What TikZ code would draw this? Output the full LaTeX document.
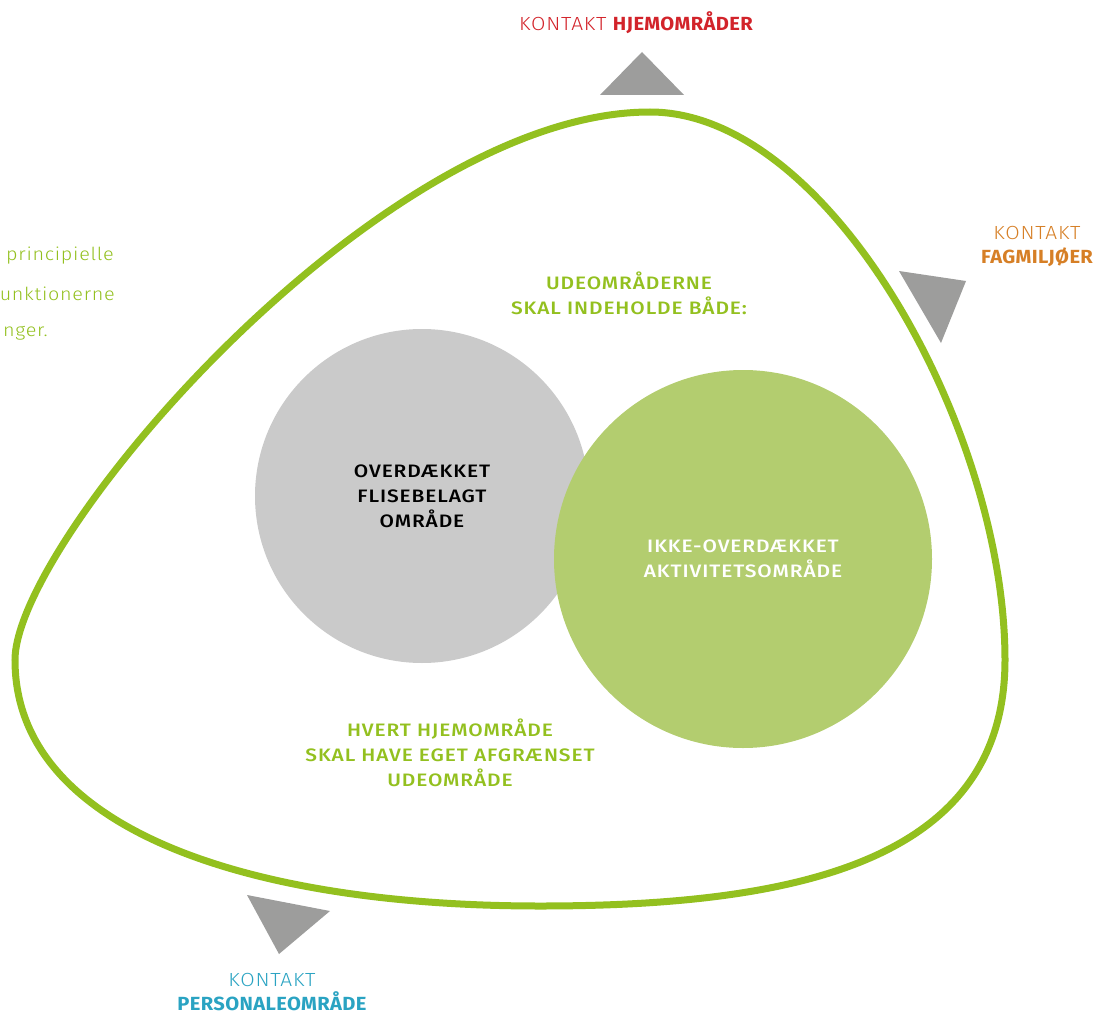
\documentclass[tikz,border=0pt]{standalone}
\usepackage{fontspec}
\setmainfont{Fira Sans}
\newfontfamily\lightfont[FakeStretch=1.1, LetterSpace=4]{Fira Sans Light}
\newfontfamily\medfont[FakeStretch=1.16, LetterSpace=5]{Fira Sans Medium}
\newfontfamily\heavyfont[FakeStretch=1.06, LetterSpace=2]{Fira Sans Bold}
\usepackage{xcolor}
\definecolor{lime}{HTML}{93C01F}
\definecolor{moss}{HTML}{B3CD6F}
\definecolor{stone}{HTML}{CACACA}
\definecolor{marker}{HTML}{9D9D9C}
\definecolor{crimson}{HTML}{D2232A}
\definecolor{amber}{HTML}{D67F26}
\definecolor{cyan}{HTML}{2AA3C2}
\usepackage{tikz}
\usetikzlibrary{positioning}

\begin{document}
\begin{tikzpicture}[
  x=1pt, y=-1pt,
  rim/.style={draw=lime, line width=7pt},
  disc/.style={circle, inner sep=0pt, font=\medfont\fontsize{18}{25}\selectfont, align=center},
  note/.style={text=lime, font=\medfont\fontsize{18}{25}\selectfont, align=center},
  contact/.style={font=\lightfont\fontsize{19}{24}\selectfont, align=center, inner sep=0pt},
  side/.style={text=lime, font=\lightfont\fontsize{18}{38}\selectfont, anchor=east, inner sep=0pt},
  pointer/.style={fill=marker},
]
\useasboundingbox (0,0) rectangle (1111,1014);

% Outline
\coordinate (top) at (650,112);
\coordinate (east) at (1005,660);
\coordinate (south) at (540,906);
\coordinate (west) at (15,660);
\draw[rim] (top) .. controls (830,112) and (1005,430) .. (east)
  .. controls (1005,860) and (800,906) .. (south)
  .. controls (250,906) and (15,830) .. (west)
  .. controls (15,540) and (380,112) .. (top) -- cycle;

% Circles
\node[disc, fill=stone, minimum size=334pt] (covered) at (422,496) {OVERDÆKKET\\FLISEBELAGT\\OMRÅDE};
\node[disc, fill=moss, text=white, minimum size=378pt] (open) at (743,559) {IKKE-OVERDÆKKET\\AKTIVITETSOMRÅDE};

% Notes
\node[note] (must) at (629,293) {UDEOMRÅDERNE\\SKAL INDEHOLDE BÅDE:};
\node[note] (every) at (450,753) {HVERT HJEMOMRÅDE\\SKAL HAVE EGET AFGRÆNSET\\UDEOMRÅDE};

% Cut text on the left
\node[side] (line1) at (114,256) {principielle};
\node[side] (line2) at (115,294) {unktionerne};
\node[side] (line3) at (48,333) {nger.};

% Pointers
\fill[pointer] (600,95) -- (684,95) -- (642,52) -- cycle;
\fill[pointer] (899,271) -- (966,281) -- (941,343) -- cycle;
\fill[pointer] (247,895) -- (330,911) -- (279,954) -- cycle;

% Contacts
\node[contact, text=crimson] (homes) at (636,23) {KONTAKT {\heavyfont HJEMOMRÅDER}};
\node[contact, text=amber] (subjects) at (1037,246) {KONTAKT\\{\heavyfont FAGMILJØER}};
\node[contact, text=cyan] (staff) at (272,992) {KONTAKT\\{\heavyfont PERSONALEOMRÅDE}};

\end{tikzpicture}
\end{document}
